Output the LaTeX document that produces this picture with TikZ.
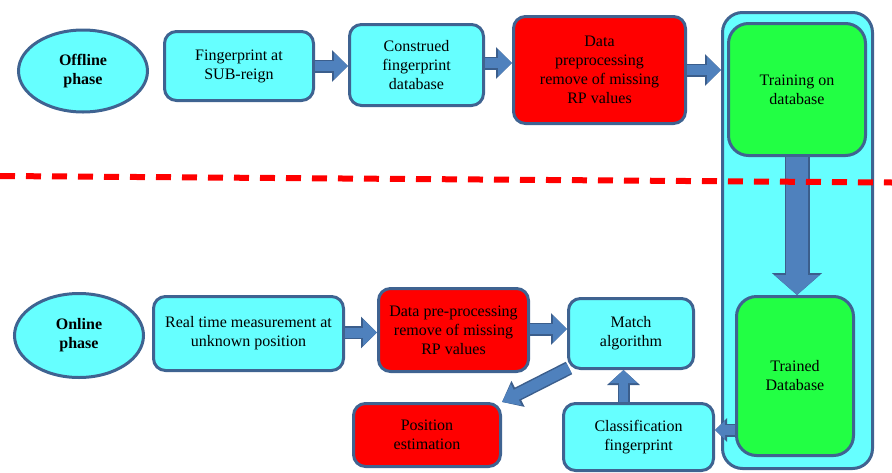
\documentclass[tikz,border=0pt]{standalone}
\usepackage{fontspec}
\setmainfont{Liberation Serif}
\newfontfamily\diagfont{Liberation Serif}
\usetikzlibrary{arrows.meta,shapes.geometric}
\definecolor{cyanbox}{HTML}{66FFFF}
\definecolor{bordr}{HTML}{3F6391}
\definecolor{afill}{HTML}{4F81BD}
\definecolor{aedge}{HTML}{3B5E8C}
\definecolor{redbox}{HTML}{FF0000}
\definecolor{greenbox}{HTML}{22FF44}
\begin{document}
\begin{tikzpicture}[x=1pt,y=-1pt,
  every node/.style={font=\diagfont\fontsize{16}{19}\selectfont, align=center, inner sep=0pt},
  box/.style={draw=bordr, line width=3pt, rounded corners=12pt},
  cbox/.style={box, fill=cyanbox},
  rbox/.style={box, fill=redbox},
  gbox/.style={box, fill=greenbox, rounded corners=20pt},
  phase/.style={ellipse, draw=bordr, line width=3pt, fill=cyanbox, font=\diagfont\fontsize{16}{19}\selectfont\bfseries},
  barrow/.style n args={6}{line width=#1, draw=afill, -{Triangle[length=#3,width=#2]},
     preaction={draw=aedge, line width=#4, -{Triangle[length=#6,width=#5]}}}
]
\useasboundingbox (0,0) rectangle (892,472);

% offline
\node[phase, minimum width=129pt, minimum height=82pt] (off) at (83,71) {Offline\\phase};
\node[cbox, minimum width=149pt, minimum height=69pt] (fp) at (239,66) {Fingerprint at\\SUB-reign};
\node[cbox, minimum width=134pt, minimum height=81pt] (constr) at (416.5,65) {Construed\\fingerprint\\database};
\node[rbox, minimum width=172pt, minimum height=107pt] (dp) at (599.5,70) {Data\\preprocessing\\remove of missing\\RP values};
\node[box, fill=cyanbox, rounded corners=20pt, minimum width=150pt, minimum height=456pt] (cont) at (797.5,240.5) {};
\node[gbox, minimum width=137pt, minimum height=132pt] (train) at (797,89.5) {Training on\\database};
\node[gbox, minimum width=117pt, minimum height=159pt] (trained) at (795,376) {Trained\\Database};

% online
\node[phase, minimum width=129pt, minimum height=84pt] (on) at (79,335.5) {Online\\phase};
\node[cbox, minimum width=190pt, minimum height=74pt] (rt) at (248.5,333.5) {Real time measurement at\\unknown position};
\node[rbox, minimum width=150pt, minimum height=83pt] (dp2) at (453.5,330) {Data pre-processing\\remove of missing\\RP values};
\node[cbox, minimum width=125pt, minimum height=70pt] (match) at (631,333.5) {Match\\algorithm};
\node[rbox, minimum width=147pt, minimum height=63pt] (pos) at (427,435) {Position\\estimation};
\node[cbox, minimum width=150pt, minimum height=67pt] (cls) at (638.5,437) {Classification\\fingerprint};

% arrows
\draw[barrow={10pt}{26pt}{14pt}{13pt}{31pt}{16pt}] (fp.east) -- (fp.east -| constr.west);
\draw[barrow={10pt}{26pt}{14pt}{13pt}{31pt}{16pt}] ([yshift=2pt]constr.east) -- ([yshift=2pt]constr.east -| dp.west);
\draw[barrow={10pt}{26pt}{14pt}{13pt}{31pt}{16pt}] (dp.east) -- (dp.east -| cont.west);
\draw[barrow={22pt}{44pt}{20pt}{25pt}{49pt}{22pt}] (train.south) -- (train.south |- trained.north);
\draw[barrow={10pt}{26pt}{14pt}{13pt}{31pt}{16pt}] ([yshift=1pt]rt.east) -- ([yshift=1pt]rt.east -| dp2.west);
\draw[barrow={10pt}{26pt}{14pt}{13pt}{31pt}{16pt}] ([yshift=1pt]dp2.east) -- ([yshift=1pt]dp2.east -| match.west);
\draw[barrow={11pt}{23pt}{16pt}{14pt}{28pt}{18pt}] ([xshift=2pt,yshift=2pt]match.south west) -- (pos.north east);
\draw[barrow={9pt}{27pt}{13pt}{12pt}{32pt}{15pt}] ([xshift=-15pt]cls.north) -- ([xshift=-15pt]cls.north |- match.south);
\draw[barrow={10pt}{18pt}{10pt}{13pt}{23pt}{12pt}] ([yshift=7pt]cls.east -| trained.west) -- ([yshift=7pt]cls.east);

% phase separator
\draw[redbox, line width=6pt, dash pattern=on 15pt off 11pt] (0,176) -- (892,182.5);
\end{tikzpicture}
\end{document}
